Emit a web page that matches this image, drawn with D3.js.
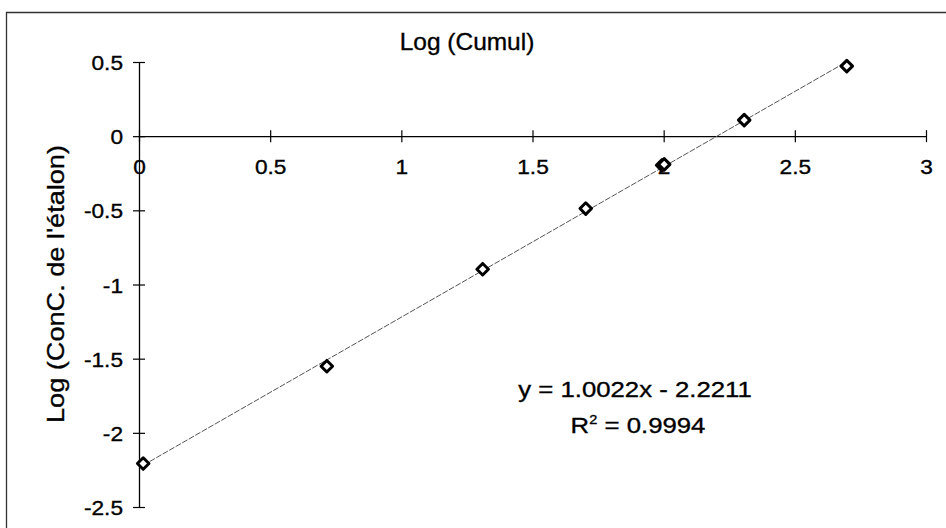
<!DOCTYPE html>
<html><head><meta charset="utf-8">
<script src="https://cdn.jsdelivr.net/npm/d3@7"></script>
<style>body{margin:0;background:#fff}svg{display:block}text{font-family:Arial,"Liberation Sans",sans-serif;fill:#000;stroke:#000;stroke-width:0.35px}</style>
</head><body><svg id="c" width="946" height="528"></svg>
<script>
const xValues = [0.016, 0.716, 1.310, 1.703, 1.994, 2.002, 2.307, 2.698];
const yValues = [-2.207, -1.551, -0.897, -0.488, -0.196, -0.190, 0.108, 0.472];
const xTicks = [0, 0.5, 1, 1.5, 2, 2.5, 3];
const yTicks = [0.5, 0, -0.5, -1, -1.5, -2, -2.5];
const xTitle = "Log (Cumul)";
const yTitle = "Log (ConC. de l'étalon)";
const eqText = "y = 1.0022x - 2.2211";
const r2Value = "0.9994";

const FONT = "Arial, 'Liberation Sans', sans-serif";
const fmt = d => d3.format("")(d).replace("\u2212","-");
const svg = d3.select("#c");
const x = d3.scaleLinear().domain([0, 3]).range([139, 926]);
const y = d3.scaleLinear().domain([-2.5, 0.5]).range([507, 62]);

// frame
svg.append("path").attr("d","M6.5,528 V12.5 H946").attr("fill","none").attr("stroke","#333").attr("stroke-width",1.3);

// x axis at y=0
const gx = svg.append("g").attr("transform",`translate(0,${y(0)})`)
  .call(d3.axisBottom(x).tickValues(xTicks).tickFormat(fmt).tickSize(0).tickPadding(0));
gx.attr("font-size",null).attr("font-family",null);
gx.select(".domain").attr("stroke","#000").attr("stroke-width",1.3);
gx.selectAll(".tick line").attr("y1",-6).attr("y2",6).attr("stroke","#000").attr("stroke-width",1.2);
gx.selectAll(".tick text").attr("y",0).attr("dy",null).attr("transform","translate(0,38) scale(1.08,1)")
  .attr("font-size",21).attr("font-family",FONT).attr("fill","#000");

// y axis at x=0
const gy = svg.append("g").attr("transform",`translate(${x(0)},0)`)
  .call(d3.axisLeft(y).tickValues(yTicks).tickFormat(fmt).tickSize(0).tickPadding(0));
gy.attr("font-size",null).attr("font-family",null);
gy.select(".domain").attr("stroke","#000").attr("stroke-width",1.3);
gy.selectAll(".tick line").attr("x1",-6).attr("x2",6).attr("stroke","#000").attr("stroke-width",1.2);
gy.selectAll(".tick text").attr("x",0).attr("dy","0.36em").attr("transform","translate(-16,0) scale(1.08,1)")
  .attr("font-size",21).attr("font-family",FONT).attr("fill","#000");

// titles
svg.append("text").attr("transform","translate(467,50) scale(1.02,1)").attr("text-anchor","middle").attr("font-size",24).text(xTitle);
svg.append("text").attr("transform","translate(64,284) rotate(-90) scale(1.13,1)").attr("text-anchor","middle").attr("font-size",24).text(yTitle);

// trendline via least squares
const n = xValues.length;
const mx = d3.mean(xValues), my = d3.mean(yValues);
let sxy=0, sxx=0;
for (let i=0;i<n;i++){ sxy+=(xValues[i]-mx)*(yValues[i]-my); sxx+=(xValues[i]-mx)**2; }
const slope = sxy/sxx, icpt = my - slope*mx;
const [x0,x1] = d3.extent(xValues);
svg.append("line").attr("x1",x(x0)).attr("y1",y(slope*x0+icpt)).attr("x2",x(x1)).attr("y2",y(slope*x1+icpt))
  .attr("stroke","#555").attr("stroke-width",1).attr("stroke-dasharray","6,1.5");

// markers
const pts = xValues.map((v,i)=>[v,yValues[i]]);
svg.append("g").selectAll("path").data(pts).join("path")
  .attr("transform",d=>`translate(${x(d[0])},${y(d[1])})`)
  .attr("d",d3.symbol(d3.symbolDiamond2 || d3.symbolDiamond, 85)())
  .attr("fill","#fff").attr("stroke","#000").attr("stroke-width",3).attr("stroke-linejoin","round");

// equation
svg.append("text").attr("transform","translate(635,397) scale(1.12,1)").attr("text-anchor","middle").attr("font-size",23).text(eqText);
const r2 = svg.append("text").attr("transform","translate(638,433) scale(1.12,1)").attr("text-anchor","middle").attr("font-size",23);
r2.append("tspan").text("R");
r2.append("tspan").attr("font-size",13).attr("dy",-9).text("2");
r2.append("tspan").attr("dy",9).text(" = " + r2Value);
</script></body></html>
